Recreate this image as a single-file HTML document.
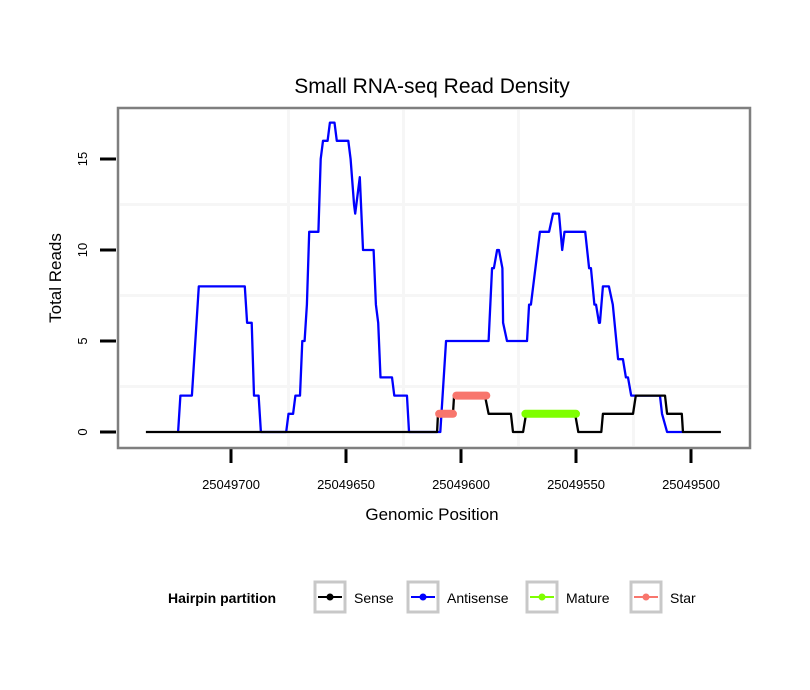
<!DOCTYPE html>
<html><head><meta charset="utf-8"><style>body{margin:0;background:#fff}svg{display:block;font-family:"Liberation Sans",sans-serif}</style></head>
<body>
<svg id="chart" width="810" height="690">
<rect width="810" height="690" fill="#fff"/>
<text x="432" y="93" font-size="21" text-anchor="middle">Small RNA-seq Read Density</text>
<g id="grid"></g><g id="series"></g><g id="axes"></g>
<rect x="118" y="108" width="632" height="340" fill="none" stroke="#7f7f7f" stroke-width="2.5"/>
<text x="432" y="520" font-size="17" text-anchor="middle">Genomic Position</text>
<text transform="translate(61,278) rotate(-90)" font-size="17" text-anchor="middle">Total Reads</text>
<g id="legend">
<text x="168" y="603" font-size="14" font-weight="bold">Hairpin partition</text>
</g>
</svg>
<script>
const xTicks=[25049700,25049650,25049600,25049550,25049500];
const xGrid=[25049675,25049625,25049575,25049525];
const yTicks=[0,5,10,15];
const yGrid=[2.5,7.5,12.5];
const sensePos=[25049737,25049610.4,25049610,25049603.5,25049603,25049589.6,25049588,25049578.3,25049577.4,25049573,25049571.7,25049550.4,25049549,25049539,25049538.3,25049525.2,25049524,25049511.3,25049510.4,25049504,25049503.5,25049487];
const senseVal=[0,0,1,1,2,2,1,1,0,0,1,1,0,0,1,1,2,2,1,1,0,0];
const antiPos=[25049723,25049722,25049717,25049716,25049714,25049694,25049693,25049691,25049690,25049688,25049687,25049676,25049675,25049673,25049672,25049670,25049669,25049668,25049667,25049666,25049662,25049661,25049660,25049658,25049657,25049655,25049654,25049649,25049648,25049646.5,25049646,25049644,25049642.6,25049638,25049637,25049636,25049635,25049630,25049629,25049623.5,25049622.6,25049609,25049606.5,25049588,25049586.5,25049585.7,25049584.3,25049583.5,25049582,25049581.7,25049580,25049571.3,25049570.4,25049569.6,25049565.7,25049561.7,25049560,25049557.4,25049556,25049555,25049546,25049544.3,25049543.5,25049542,25049541.3,25049540,25049539.6,25049538.3,25049535.7,25049534,25049531.7,25049529.6,25049528.3,25049527.4,25049526,25049513.5,25049512.6,25049510.4,25049503.5];
const antiVal=[0,2,2,4,8,8,6,6,2,2,0,0,1,1,2,2,5,5,7,11,11,15,16,16,17,17,16,16,15,12.5,12,14,10,10,7,6,3,3,2,2,0,0,5,5,9,9,10,10,9,6,5,5,7,7,11,11,12,12,10,11,11,9,9,7,7,6,6,8,8,7,4,4,3,3,2,2,1,0,0];
const starStart=[25049609.5,25049602];
const starEnd=[25049603.5,25049589];
const starVal=[1,2];
const matureStart=[25049572];
const matureEnd=[25049550];
const matureVal=[1];
const NS='http://www.w3.org/2000/svg';
const X=p=>231+(25049700-p)*2.3, Y=v=>432-v*18.2;
function mk(t,a,par){const e=document.createElementNS(NS,t);for(const k in a)e.setAttribute(k,a[k]);document.getElementById(par).appendChild(e);return e;}
xGrid.forEach(g=>{const e=mk('line',{x1:X(g),x2:X(g),y1:110,y2:446,stroke:'#f6f6f6','stroke-width':3},'grid');

});
yGrid.forEach(g=>{const e=mk('line',{x1:120,x2:748,y1:Y(g),y2:Y(g),stroke:'#f6f6f6','stroke-width':3},'grid');

});
xTicks.forEach(t=>{const l=mk('line',{x1:X(t),x2:X(t),y1:449,y2:463,stroke:'#000','stroke-width':3},'axes');


const s=mk('text',{x:X(t),y:489,'font-size':13,'text-anchor':'middle'},'axes');s.textContent=t;

});
yTicks.forEach(t=>{const l=mk('line',{x1:100,x2:116,y1:Y(t),y2:Y(t),stroke:'#000','stroke-width':3},'axes');


const s=mk('text',{transform:`translate(87,${Y(t)}) rotate(-90)`,'font-size':13,'text-anchor':'middle'},'axes');s.textContent=t;

});
function line(ps,vs,col,name){const p=mk('polyline',{points:ps.map((q,i)=>X(q)+','+Y(vs[i])).join(' '),fill:'none',stroke:col,'stroke-width':2.3,'stroke-linejoin':'round'},'series');

}
line(antiPos,antiVal,'#0000ff','antisense-line');
line(sensePos,senseVal,'#000','sense-line');
function seg(s,e,v,col,name){s.forEach((a,i)=>{const l=mk('line',{x1:X(a),x2:X(e[i]),y1:Y(v[i]),y2:Y(v[i]),stroke:col,'stroke-width':8,'stroke-linecap':'round'},'series');

});}
seg(starStart,starEnd,starVal,'#f8766d','star-segment');
seg(matureStart,matureEnd,matureVal,'#7fff00','mature-segment');
const leg=[['Sense','#000',314],['Antisense','#0000ff',407],['Mature','#7fff00',526],['Star','#f8766d',630]];
leg.forEach(([n,c,x])=>{const g=mk('g',{},'legend');


const b=mk('rect',{x:x+1,y:582,width:30,height:30,fill:'#fff',stroke:'#c8c8c8','stroke-width':3},'legend');


mk('line',{x1:x+4,x2:x+28,y1:597,y2:597,stroke:c,'stroke-width':2},'legend');
mk('circle',{cx:x+16,cy:597,r:3.5,fill:c},'legend');
const t=mk('text',{x:x+40,y:603,'font-size':14},'legend');t.textContent=n;

});
</script>
</body></html>
